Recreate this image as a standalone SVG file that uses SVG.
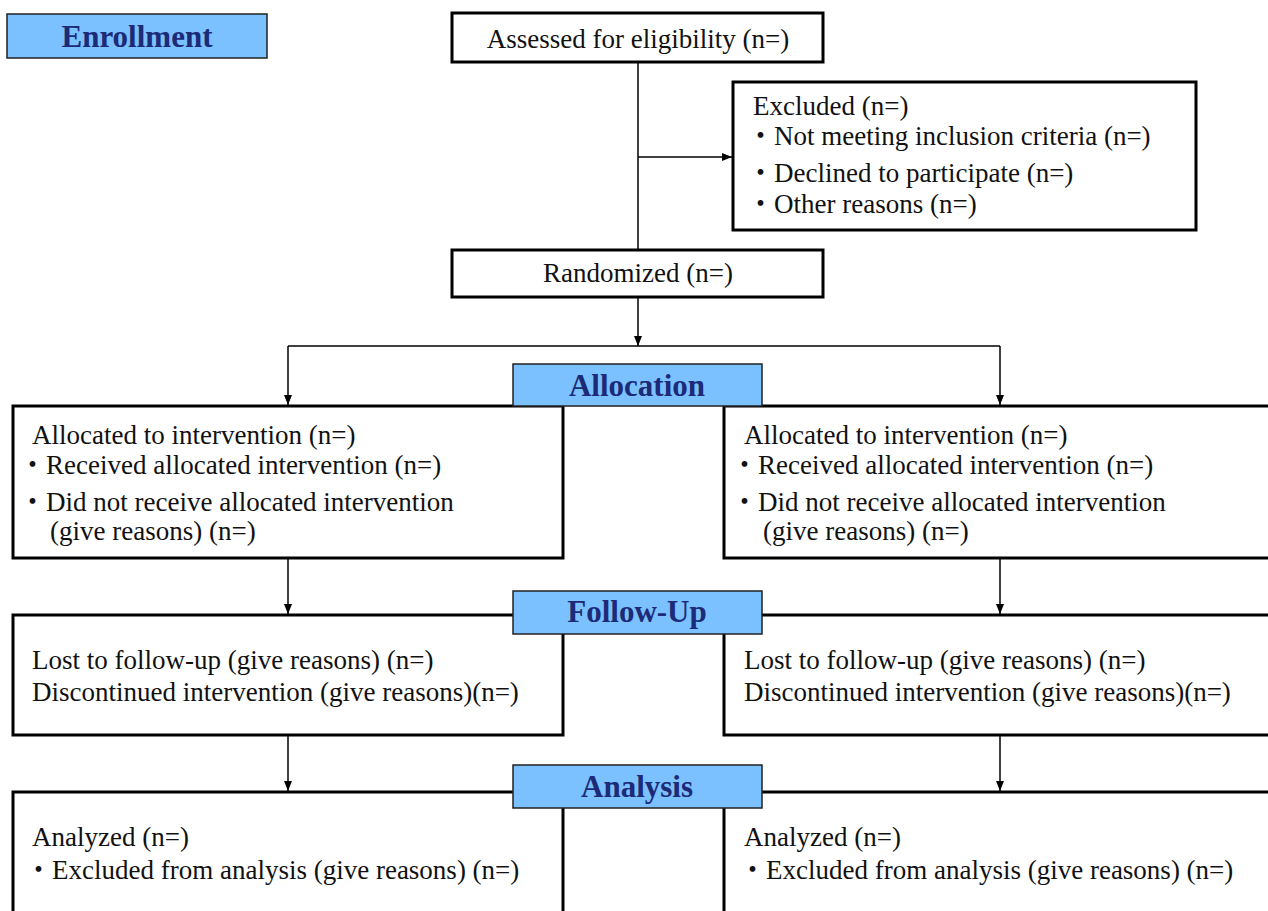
<svg xmlns="http://www.w3.org/2000/svg" width="1268" height="911" viewBox="0 0 1268 911">
<style>
.box{fill:#fff;stroke:#000;stroke-width:3}
.lab{fill:#7BC1FF;stroke:#222;stroke-width:1.5}
.t{font-family:"Liberation Serif","Noto Sans CJK JP",serif;font-size:27px;fill:#111}
.c{text-anchor:middle}
.h{font-family:"Liberation Serif",serif;font-size:31px;font-weight:bold;fill:#1C2A78;text-anchor:middle}
.ln{stroke:#000;stroke-width:1.5;fill:none}
</style>
<defs>
<marker id="ah" markerUnits="userSpaceOnUse" markerWidth="10" markerHeight="8" refX="10" refY="4" orient="auto">
<path d="M0,0 L10,4 L0,8 z" fill="#000"/>
</marker>
</defs>
<g id="connectors">
<line class="ln" x1="638" y1="62" x2="638" y2="250"/>
<line class="ln" x1="638" y1="157" x2="732" y2="157" marker-end="url(#ah)"/>
<line class="ln" x1="638" y1="297" x2="638" y2="346" marker-end="url(#ah)"/>
<line class="ln" x1="288" y1="346" x2="1000" y2="346"/>
<line class="ln" x1="288" y1="346" x2="288" y2="405" marker-end="url(#ah)"/>
<line class="ln" x1="1000" y1="346" x2="1000" y2="405" marker-end="url(#ah)"/>
<line class="ln" x1="288" y1="558" x2="288" y2="614" marker-end="url(#ah)"/>
<line class="ln" x1="1000" y1="558" x2="1000" y2="614" marker-end="url(#ah)"/>
<line class="ln" x1="288" y1="735" x2="288" y2="791" marker-end="url(#ah)"/>
<line class="ln" x1="1000" y1="735" x2="1000" y2="791" marker-end="url(#ah)"/>
</g>
<g id="assessed">
<rect class="box" x="452" y="13" width="371" height="49"/>
<text class="t c" x="638" y="48">Assessed for eligibility (n=)</text>
</g>
<g id="excluded">
<rect class="box" x="733" y="82" width="463" height="148"/>
<text class="t" x="753" y="115">Excluded (n=)</text>
<text class="t" x="747" y="145">・Not meeting inclusion criteria (n=)</text>
<text class="t" x="747" y="182">・Declined to participate (n=)</text>
<text class="t" x="747" y="213">・Other reasons (n=)</text>
</g>
<g id="randomized">
<rect class="box" x="452" y="250" width="371" height="47"/>
<text class="t c" x="638" y="282">Randomized (n=)</text>
</g>
<g id="alloc-left">
<rect class="box" x="13" y="406" width="550" height="152"/>
<text class="t" x="32" y="444">Allocated to intervention (n=)</text>
<text class="t" x="19" y="474">・Received allocated intervention (n=)</text>
<text class="t" x="19" y="511">・Did not receive allocated intervention</text>
<text class="t" x="50" y="540">(give reasons) (n=)</text>
</g>
<g id="alloc-right">
<rect class="box" x="724" y="406" width="560" height="152"/>
<text class="t" x="744" y="444">Allocated to intervention (n=)</text>
<text class="t" x="731" y="474">・Received allocated intervention (n=)</text>
<text class="t" x="731" y="511">・Did not receive allocated intervention</text>
<text class="t" x="763" y="540">(give reasons) (n=)</text>
</g>
<g id="follow-left">
<rect class="box" x="13" y="615" width="550" height="120"/>
<text class="t" x="32" y="669">Lost to follow-up (give reasons) (n=)</text>
<text class="t" x="32" y="701">Discontinued intervention (give reasons)(n=)</text>
</g>
<g id="follow-right">
<rect class="box" x="724" y="615" width="560" height="120"/>
<text class="t" x="744" y="669">Lost to follow-up (give reasons) (n=)</text>
<text class="t" x="744" y="701">Discontinued intervention (give reasons)(n=)</text>
</g>
<g id="analysis-left">
<rect class="box" x="13" y="792" width="550" height="140"/>
<text class="t" x="32" y="846">Analyzed (n=)</text>
<text class="t" x="25" y="879">・Excluded from analysis (give reasons) (n=)</text>
</g>
<g id="analysis-right">
<rect class="box" x="724" y="792" width="560" height="140"/>
<text class="t" x="744" y="846">Analyzed (n=)</text>
<text class="t" x="739" y="879">・Excluded from analysis (give reasons) (n=)</text>
</g>
<g id="label-enrollment">
<rect class="lab" x="7" y="14" width="260" height="44"/>
<text class="h" x="137" y="47">Enrollment</text>
</g>
<g id="label-allocation">
<rect class="lab" x="513" y="364" width="249" height="42"/>
<text class="h" x="637" y="396">Allocation</text>
</g>
<g id="label-followup">
<rect class="lab" x="513" y="591" width="249" height="43"/>
<text class="h" x="637" y="622">Follow-Up</text>
</g>
<g id="label-analysis">
<rect class="lab" x="513" y="765" width="249" height="43"/>
<text class="h" x="637" y="797">Analysis</text>
</g>
</svg>
